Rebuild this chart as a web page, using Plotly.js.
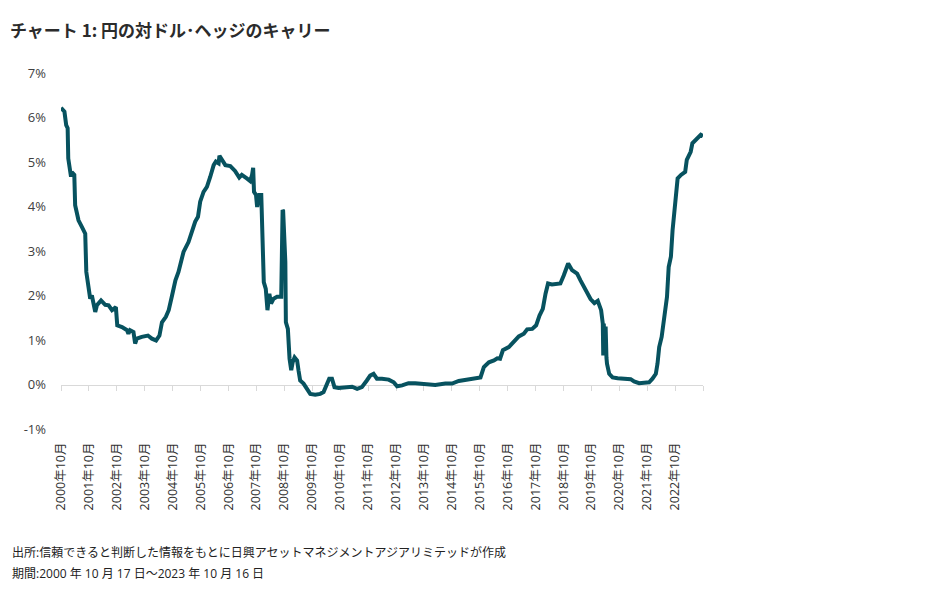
<!DOCTYPE html>
<html>
<head>
<meta charset="utf-8">
<script src="https://cdn.plot.ly/plotly-3.0.1.min.js"></script>
<style>html,body{margin:0;padding:0;background:#fff;}</style>
</head>
<body>
<div id="chart" style="width:932px;height:593px;"></div>
<script>
// ---- Data ----
const dates = [
"2000-10-17","2000-12-01","2000-12-24","2001-01-12","2001-01-20","2001-02-03","2001-02-25","2001-03-07","2001-04-09","2001-04-20",
"2001-06-03","2001-07-17","2001-08-30","2001-09-13","2001-10-12","2001-11-03","2001-11-25","2002-01-08","2002-01-30","2002-03-25",
"2002-05-19","2002-07-02","2002-08-15","2002-10-05","2002-10-23","2002-12-24","2003-02-28","2003-03-18","2003-04-09","2003-05-23",
"2003-06-14","2003-07-06","2003-09-09","2003-11-28","2004-01-19","2004-03-14","2004-04-27","2004-05-30","2004-07-20","2004-08-26",
"2004-10-09","2004-11-22","2005-01-01","2005-03-08","2005-05-12","2005-06-25","2005-08-08","2005-09-13","2005-10-12","2005-11-25",
"2006-01-08","2006-02-21","2006-04-06","2006-05-05","2006-06-10","2006-06-21","2006-07-24","2006-09-06","2006-11-10","2006-12-20",
"2007-01-11","2007-03-07","2007-04-09","2007-06-14","2007-07-28","2007-08-22","2007-09-05","2007-09-16","2007-10-12","2007-10-27",
"2007-11-25","2007-12-20","2008-01-04","2008-01-22","2008-02-17","2008-03-10","2008-04-04","2008-04-26","2008-05-30","2008-07-13",
"2008-09-06","2008-09-24","2008-10-01","2008-10-30","2008-11-06","2008-12-02","2008-12-24","2009-01-15","2009-02-03","2009-02-28",
"2009-04-02","2009-04-20","2009-05-12","2009-06-25","2009-08-08","2009-09-21","2009-11-25","2010-01-30","2010-03-14","2010-04-27",
"2010-05-27","2010-07-02","2010-08-04","2010-09-28","2010-12-24","2011-03-22","2011-05-27","2011-07-28","2011-10-01","2011-11-14",
"2011-12-28","2012-02-10","2012-04-16","2012-07-13","2012-09-17","2012-10-31","2013-01-05","2013-03-29","2013-06-25","2013-11-03",
"2014-03-14","2014-07-24","2014-10-20","2015-01-16","2015-05-27","2015-08-23","2015-10-27","2015-12-10","2016-02-14","2016-04-20",
"2016-06-03","2016-07-09","2016-08-15","2016-10-31","2017-01-05","2017-03-11","2017-05-16","2017-06-29","2017-09-03","2017-10-24",
"2017-12-07","2018-01-19","2018-02-24","2018-03-29","2018-05-19","2018-07-24","2018-09-06","2018-10-20","2018-12-17","2019-02-06",
"2019-04-13","2019-05-27","2019-07-10","2019-08-23","2019-10-06","2019-11-25","2020-01-08","2020-02-21","2020-03-14","2020-03-20",
"2020-03-27","2020-04-08","2020-04-20","2020-05-01","2020-05-08","2020-06-06","2020-07-20","2020-09-24","2020-11-28","2021-02-03",
"2021-03-14","2021-04-27","2021-07-02","2021-09-06","2021-11-10","2021-12-24","2022-02-06","2022-02-28","2022-03-22","2022-04-23",
"2022-05-27","2022-07-02","2022-07-24","2022-08-22","2022-09-13","2022-10-05","2022-10-27","2022-11-18","2023-01-01","2023-02-25",
"2023-03-18","2023-05-08","2023-05-30","2023-07-13","2023-09-17","2023-10-16"
];
const carry = [
6.22,6.13,5.83,5.76,5.08,4.93,4.67,4.77,4.71,4.03,
3.69,3.54,3.39,2.53,2.15,1.93,2.00,1.63,1.78,1.89,
1.79,1.78,1.67,1.74,1.33,1.29,1.22,1.14,1.22,1.18,
0.92,1.03,1.07,1.10,1.03,0.99,1.10,1.40,1.52,1.67,
2.00,2.34,2.53,2.98,3.20,3.43,3.66,3.77,4.11,4.33,
4.44,4.67,4.93,5.01,4.97,5.14,5.05,4.93,4.91,4.84,
4.80,4.65,4.71,4.63,4.57,4.71,4.87,4.33,4.26,3.99,
4.26,4.26,3.51,2.30,2.15,1.67,2.04,1.82,1.93,1.97,
1.97,3.92,3.90,2.75,1.40,1.25,0.58,0.32,0.50,0.61,
0.54,0.32,0.09,0.02,-0.10,-0.21,-0.23,-0.21,-0.17,-0.02,
0.13,0.13,-0.06,-0.08,-0.06,-0.05,-0.10,-0.06,0.09,0.20,
0.24,0.13,0.13,0.11,0.05,-0.04,-0.02,0.03,0.03,0.00,
-0.01,0.02,0.02,0.08,0.11,0.15,0.16,0.39,0.50,0.54,
0.59,0.58,0.77,0.84,0.95,1.08,1.14,1.24,1.25,1.33,
1.55,1.70,2.04,2.27,2.25,2.25,2.27,2.45,2.72,2.57,
2.49,2.34,2.19,2.04,1.92,1.83,1.88,1.67,1.37,0.65,
1.37,0.70,1.30,0.60,0.47,0.24,0.16,0.14,0.13,0.11,
0.12,0.07,0.03,0.04,0.05,0.13,0.24,0.47,0.84,1.07,
1.44,1.97,2.64,2.87,3.47,3.84,4.37,4.63,4.71,4.78,
5.05,5.23,5.42,5.51,5.61,5.58
];
const tickDates = ["2000-10-17","2001-10-17","2002-10-17","2003-10-17","2004-10-17","2005-10-17","2006-10-17","2007-10-17",
"2008-10-17","2009-10-17","2010-10-17","2011-10-17","2012-10-17","2013-10-17","2014-10-17","2015-10-17","2016-10-17",
"2017-10-17","2018-10-17","2019-10-17","2020-10-17","2021-10-17","2022-10-17","2023-10-16"];
const tickLabels = ["2000年10月","2001年10月","2002年10月","2003年10月","2004年10月","2005年10月","2006年10月","2007年10月",
"2008年10月","2009年10月","2010年10月","2011年10月","2012年10月","2013年10月","2014年10月","2015年10月","2016年10月",
"2017年10月","2018年10月","2019年10月","2020年10月","2021年10月","2022年10月",""];
const yTickVals = [-1,0,1,2,3,4,5,6,7];
const yTickText = ["-1%","0%","1%","2%","3%","4%","5%","6%","7%"];
const titleText = "<b>チャート 1: 円の対ドル･ヘッジのキャリー</b>";
const sourceLines = ["出所:信頼できると判断した情報をもとに日興アセットマネジメントアジアリミテッドが作成",
                     "期間:2000 年 10 月 17 日～2023 年 10 月 16 日"];

// ---- Layout geometry ----
const W = 932, H = 593;
const M = {l: 61, r: 229, t: 73, b: 164};
const plotW = W - M.l - M.r, plotH = H - M.t - M.b;
const yRange = [-1, 7];
const xRange = [dates[0], dates[dates.length - 1]];
const px2paperX = px => (px - M.l) / plotW;
const py2paperY = py => (H - M.b - py) / plotH;
const FONT = "'Open Sans', 'Noto Sans CJK JP', sans-serif";
const CJK = "'Noto Sans CJK JP', sans-serif";

const traces = [
  {x: xRange, y: [null, null], xaxis: 'x2', yaxis: 'y', mode: 'lines', showlegend: false, hoverinfo: 'skip'},
  {x: dates, y: carry, type: 'scatter', mode: 'lines', xaxis: 'x', yaxis: 'y',
   line: {color: '#07525f', width: 4}, showlegend: false}
];

const layout = {
  width: W, height: H, margin: M,
  paper_bgcolor: '#ffffff', plot_bgcolor: '#ffffff',
  showlegend: false,
  title: {text: titleText, xref: 'container', yref: 'container', x: 10 / W, xanchor: 'left',
          y: 1 - 31 / H, yanchor: 'middle', font: {family: CJK, size: 17, color: '#2b2b2b'}},
  xaxis: {type: 'date', range: xRange, tickvals: tickDates, ticktext: tickLabels, tickangle: -90,
          showgrid: false, zeroline: false, showline: false, ticks: '', ticklabelstandoff: 10,
          tickfont: {family: FONT, size: 12.5, color: '#333333'}},
  xaxis2: {type: 'date', range: xRange, overlaying: 'x', anchor: 'free',
           position: (0 - yRange[0]) / (yRange[1] - yRange[0]), side: 'bottom',
           tickvals: tickDates, showticklabels: false, ticks: 'outside', ticklen: 5, tickwidth: 1,
           tickcolor: '#d9d9d9', showline: true, linecolor: '#d9d9d9', linewidth: 1,
           showgrid: false, zeroline: false, layer: 'below traces'},
  yaxis: {range: yRange, tickvals: yTickVals, ticktext: yTickText, showgrid: false, zeroline: false,
          showline: false, ticks: '', ticklabelstandoff: 14,
          tickfont: {family: FONT, size: 13, color: '#404040'}},
  annotations: sourceLines.map((t, i) => ({
    text: t, xref: 'paper', yref: 'paper', x: px2paperX(10), y: py2paperY(552 + i * 21),
    xanchor: 'left', yanchor: 'middle', showarrow: false, align: 'left',
    font: {family: FONT, size: 12, color: '#222222'}
  }))
};

Plotly.newPlot('chart', traces, layout, {displayModeBar: false, staticPlot: true});
</script>
</body>
</html>
